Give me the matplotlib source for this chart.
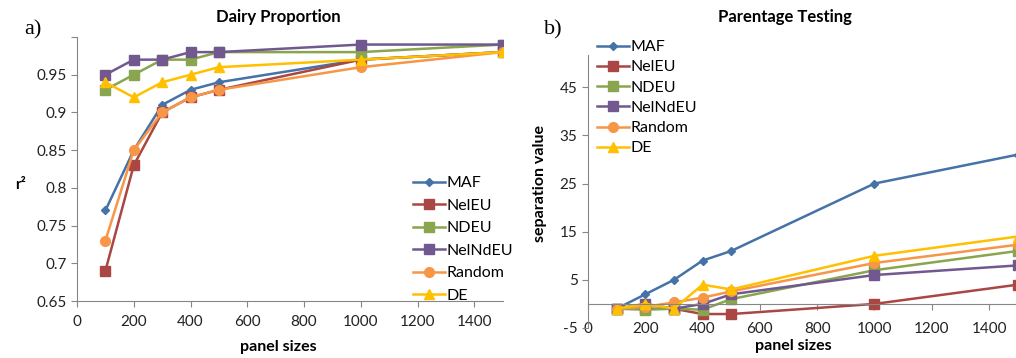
import numpy as np
import matplotlib
matplotlib.use("Agg")
import matplotlib.pyplot as plt

plt.rcParams['font.family'] = ['Lato', 'DejaVu Sans']
plt.rcParams['axes.unicode_minus'] = False

panel_sizes = [100, 200, 300, 400, 500, 1000, 1500]
series_names = ['MAF', 'NelEU', 'NDEU', 'NelNdEU', 'Random', 'DE']

# a) Dairy Proportion (r2)
dairy_maf = [0.77, 0.85, 0.91, 0.93, 0.94, 0.97, 0.98]
dairy_neleu = [0.69, 0.83, 0.90, 0.92, 0.93, 0.97, 0.98]
dairy_ndeu = [0.93, 0.95, 0.97, 0.97, 0.98, 0.98, 0.99]
dairy_nelndeu = [0.95, 0.97, 0.97, 0.98, 0.98, 0.99, 0.99]
dairy_random = [0.73, 0.85, 0.90, 0.92, 0.93, 0.96, 0.98]
dairy_de = [0.94, 0.92, 0.94, 0.95, 0.96, 0.97, 0.98]

# b) Parentage Testing (separation value)
par_maf = [-1, 2, 5, 9, 11, 25, 31]
par_neleu = [-1, -1, -1, -2.1, -2.1, 0, 4]
par_ndeu = [-1, -1.2, -1, -1.2, 1, 7, 11]
par_nelndeu = [-1, 0, -1, 0, 2, 6, 8]
par_random = [-1, -0.6, 0.3, 1.3, 2.6, 8.5, 12.3]
par_de = [-1, 0, -1, 4, 3, 10, 14]

colors = ['#4572A7', '#AA4643', '#89A54E', '#71588F', '#F79646', '#FFC000']
markers = ['D', 's', 's', 's', 'o', '^']
msizes = [4.5, 6.5, 6.5, 6.5, 7, 7]

dairy = [dairy_maf, dairy_neleu, dairy_ndeu, dairy_nelndeu, dairy_random, dairy_de]
parent = [par_maf, par_neleu, par_ndeu, par_nelndeu, par_random, par_de]

fig = plt.figure(figsize=(10.16, 3.58), dpi=100)
axcol = '#868686'
tick_fs = 11
leg_fs = 11.5

# ---- left panel
ax1 = fig.add_axes([0.0758, 0.1592, 0.419, 0.7374])
for vals, name, c, m, ms in zip(dairy, series_names, colors, markers, msizes):
    ax1.plot(panel_sizes, vals, color=c, marker=m, markersize=ms, lw=1.8, label=name)
ax1.set_xlim(0, 1500)
ax1.set_ylim(0.65, 1.0)
ax1.set_xticks(np.arange(0, 1401, 200))
ax1.set_yticks(np.arange(0.65, 1.001, 0.05))
ax1.set_yticklabels(['0.65', '0.7', '0.75', '0.8', '0.85', '0.9', '0.95', ''])
for s in ['top', 'right']:
    ax1.spines[s].set_visible(False)
for s in ['left', 'bottom']:
    ax1.spines[s].set_color(axcol)
ax1.tick_params(colors=axcol, labelcolor='#222222', labelsize=tick_fs, length=4)
ax1.tick_params(axis='x', pad=6)
fig.text(278 / 1016, 1 - 17 / 358, 'Dairy Proportion', ha='center', va='center',
         fontsize=12, fontweight='bold')
fig.text(278 / 1016, 1 - 347 / 358, 'panel sizes', ha='center', va='center',
         fontsize=11.5, fontweight='bold')
fig.text(21 / 1016, 1 - 185 / 358, 'r²', ha='center', va='center',
         fontsize=11, fontweight='bold')
fig.text(33 / 1016, 1 - 30 / 358, 'a)', ha='center', va='center',
         fontsize=16, family='Liberation Serif')
ax1.legend(loc='upper left', bbox_to_anchor=(413 / 1016, 1 - 176 / 358),
           bbox_transform=fig.transFigure, frameon=False, fontsize=leg_fs,
           handlelength=2.0, handletextpad=0.1, labelspacing=0.52,
           borderaxespad=0, borderpad=0)

# ---- right panel
ax2 = fig.add_axes([0.5787, 0.0838, 0.423, 0.7626])
for vals, name, c, m, ms in zip(parent, series_names, colors, markers, msizes):
    ax2.plot(panel_sizes, vals, color=c, marker=m, markersize=ms, lw=1.8, label=name)
ax2.set_xlim(0, 1500)
ax2.set_ylim(-5, 51.7)
ax2.set_xticks(np.arange(0, 1401, 200))
ax2.set_yticks(np.arange(-5, 46, 10))
for s in ['top', 'right']:
    ax2.spines[s].set_visible(False)
ax2.spines['left'].set_color(axcol)
ax2.spines['bottom'].set_color(axcol)
ax2.spines['bottom'].set_position(('data', 0))
ax2.tick_params(colors=axcol, labelcolor='#222222', labelsize=tick_fs, length=4)
ax2.tick_params(axis='x', labelbottom=False)
sec = ax2.secondary_xaxis(0.022)
sec.set_xticks(np.arange(0, 1401, 200))
sec.spines['bottom'].set_visible(False)
sec.tick_params(length=0, labelsize=tick_fs, labelcolor='#222222', pad=0)
fig.text(785 / 1016, 1 - 17 / 358, 'Parentage Testing', ha='center', va='center',
         fontsize=12, fontweight='bold')
fig.text(793 / 1016, 1 - 346 / 358, 'panel sizes', ha='center', va='center',
         fontsize=11.5, fontweight='bold')
fig.text(540 / 1016, 1 - 183 / 358, 'separation value', ha='center', va='center',
         fontsize=11.5, fontweight='bold', rotation=90)
fig.text(553 / 1016, 1 - 30 / 358, 'b)', ha='center', va='center',
         fontsize=16, family='Liberation Serif')
ax2.legend(loc='upper left', bbox_to_anchor=(597 / 1016, 1 - 40 / 358),
           bbox_transform=fig.transFigure, frameon=False, fontsize=leg_fs,
           handlelength=2.0, handletextpad=0.1, labelspacing=0.38,
           borderaxespad=0, borderpad=0)

fig.savefig('out.png', dpi=100)
